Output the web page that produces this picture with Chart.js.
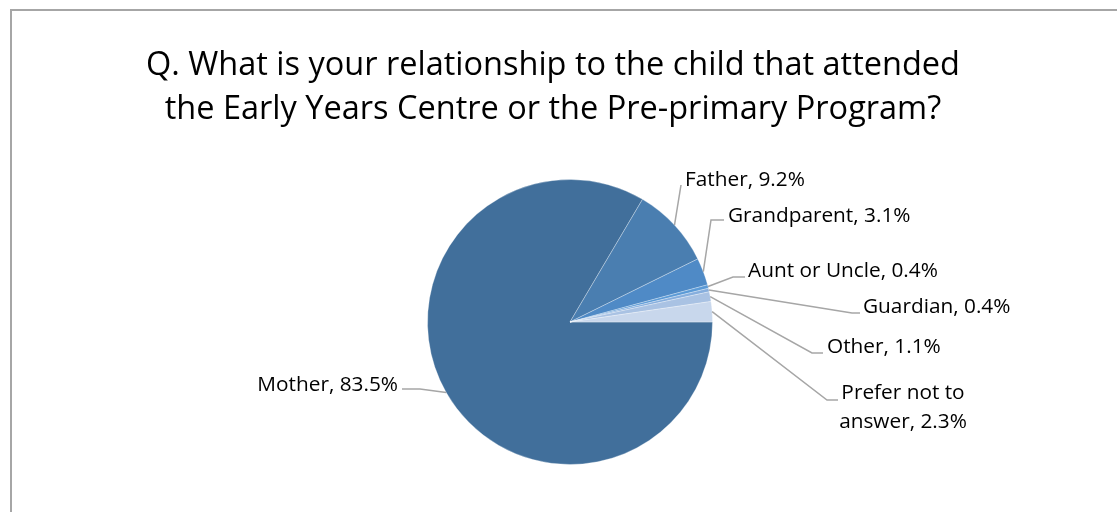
<!DOCTYPE html>
<html>
<head>
<meta charset="utf-8">
<script src="https://cdn.jsdelivr.net/npm/chart.js@4.4.1/dist/chart.umd.min.js"></script>
<style>
  html, body { margin: 0; padding: 0; background: #fff; }
  canvas { display: block; }
</style>
</head>
<body>
<canvas id="relationChart" width="1117" height="512"></canvas>
<script>
const titleLines = [
    'Q. What is your relationship to the child that attended',
    'the Early Years Centre or the Pre-primary Program?'
];
const relations = ['Mother', 'Father', 'Grandparent', 'Aunt or Uncle', 'Guardian', 'Other', 'Prefer not to answer'];
const percents = [83.5, 9.2, 3.1, 0.4, 0.4, 1.1, 2.3];
const sliceColors = ['#416F9B', '#4A7EB0', '#4F8AC6', '#5B9AD6', '#86AEDD', '#A9C2E3', '#C8D7EC'];

// where each outside label sits, as offsets from the pie centre:
// elbow of the leader line, end of the leader line, text anchor (baseline)
const labelPlaces = [
    { elbow: [-150, 67], end: [-168, 67], text: [-172, 69], align: 'right' },
    { elbow: [111, -137], end: [111, -137], text: [115, -136], align: 'left' },
    { elbow: [141, -102], end: [154, -102], text: [158, -100], align: 'left' },
    { elbow: [163, -45], end: [175, -45], text: [178, -45], align: 'left' },
    { elbow: [282, -9], end: [290, -9], text: [293, -9], align: 'left' },
    { elbow: [242, 31], end: [253, 31], text: [257, 31], align: 'left' },
    { elbow: [257, 78], end: [268, 78], text: [333, 77], align: 'center', lines: ['Prefer not to', 'answer, 2.3%'] }
];

const frameAndTitle = {
    id: 'frameAndTitle',
    beforeDraw(chart) {
        const ctx = chart.ctx;
        ctx.save();
        ctx.strokeStyle = '#A6A6A6';
        ctx.lineWidth = 2;
        ctx.beginPath();
        ctx.moveTo(11, 520);
        ctx.lineTo(11, 10);
        ctx.lineTo(1130, 10);
        ctx.stroke();

        ctx.fillStyle = '#000';
        ctx.font = '32.5px "Open Sans"';
        ctx.textAlign = 'center';
        ctx.textBaseline = 'alphabetic';
        ctx.fillText(titleLines[0], 553, 75);
        ctx.fillText(titleLines[1], 553, 119);
        ctx.restore();
    }
};

const outsideLabels = {
    id: 'outsideLabels',
    afterDatasetsDraw(chart) {
        const ctx = chart.ctx;
        const arcs = chart.getDatasetMeta(0).data;
        ctx.save();
        arcs.forEach((arc, i) => {
            const p = arc.getProps(['x', 'y', 'startAngle', 'endAngle', 'outerRadius'], true);
            const mid = (p.startAngle + p.endAngle) / 2;
            const sx = p.x + Math.cos(mid) * p.outerRadius;
            const sy = p.y + Math.sin(mid) * p.outerRadius;
            const place = labelPlaces[i];

            ctx.strokeStyle = '#A6A6A6';
            ctx.lineWidth = 1.5;
            ctx.beginPath();
            ctx.moveTo(sx, sy);
            ctx.lineTo(p.x + place.elbow[0], p.y + place.elbow[1]);
            ctx.lineTo(p.x + place.end[0], p.y + place.end[1]);
            ctx.stroke();

            ctx.fillStyle = '#000';
            ctx.font = '20.8px "Open Sans"';
            ctx.textAlign = place.align;
            ctx.textBaseline = 'alphabetic';
            const lines = place.lines || [relations[i] + ', ' + percents[i].toFixed(1) + '%'];
            lines.forEach((line, k) => {
                ctx.fillText(line, p.x + place.text[0], p.y + place.text[1] + k * 29);
            });
        });
        ctx.restore();
    }
};

new Chart(document.getElementById('relationChart'), {
    type: 'pie',
    data: {
        labels: relations,
        datasets: [{
            data: percents,
            backgroundColor: sliceColors,
            borderColor: 'rgba(255, 255, 255, 0.3)',
            borderWidth: 1
        }]
    },
    options: {
        responsive: false,
        animation: false,
        rotation: 90,
        layout: {
            padding: { top: 179, bottom: 47, left: 300, right: 277 }
        },
        plugins: {
            legend: { display: false },
            tooltip: { enabled: false }
        }
    },
    plugins: [frameAndTitle, outsideLabels]
});
</script>
</body>
</html>
